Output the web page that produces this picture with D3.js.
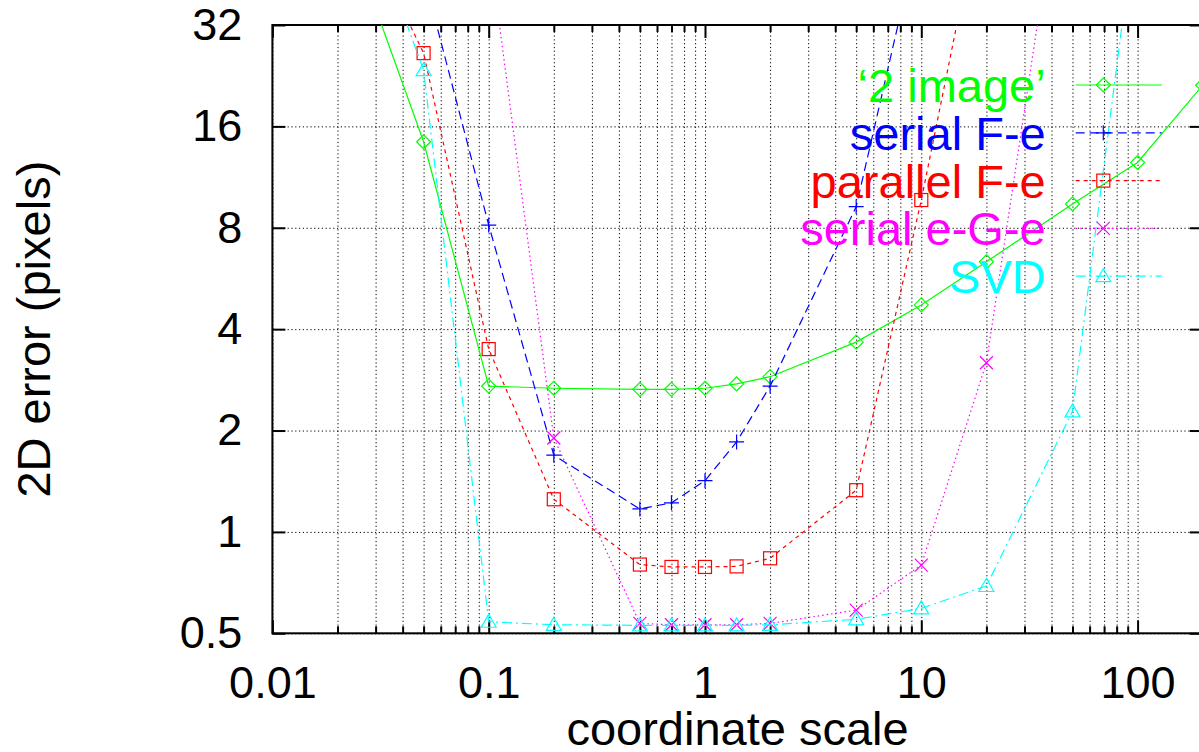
<!DOCTYPE html>
<html>
<head>
<meta charset="utf-8">
<script src="https://cdn.jsdelivr.net/npm/d3@7"></script>
<style>
  html, body { margin: 0; padding: 0; background: #fff; overflow: hidden; }
  svg { display: block; }
  text { font-family: "Liberation Sans", Arial, Helvetica, sans-serif; }
</style>
</head>
<body>
<svg id="chart" width="1199" height="752"></svg>
<script>
// ---- data ----
const xValues = [0.02, 0.05, 0.1, 0.2, 0.5, 0.7, 1, 1.4, 2, 5, 10, 20, 50, 100, 200];
const twoImage   = [74, 14.4, 2.71, 2.67, 2.65, 2.65, 2.67, 2.75, 2.89, 3.66, 4.72, 6.34, 9.41, 12.5, 21.2];
const serialFe   = [null, 45, 8.15, 1.69, 1.17, 1.22, 1.42, 1.85, 2.71, 9.24, 64, null, null, null, null];
const parallelFe = [89, 26.4, 3.49, 1.25, 0.80, 0.787, 0.787, 0.79, 0.835, 1.33, 9.67, 87, null, null, null];
const serialEGe  = [null, null, 56, 1.90, 0.535, 0.53, 0.53, 0.53, 0.535, 0.586, 0.797, 3.18, 158, null, null];
const svdValues  = [118, 23.5, 0.541, 0.53, 0.528, 0.528, 0.528, 0.528, 0.53, 0.55, 0.593, 0.691, 2.28, 73.5, null];

const seriesNames = ["\u20182 image\u2019", "serial F-e", "parallel F-e", "serial e-G-e", "SVD"];
const xTickValues = [0.01, 0.1, 1, 10, 100];
const xTickLabels = ["0.01", "0.1", "1", "10", "100"];
const yTickValues = [0.5, 1, 2, 4, 8, 16, 32];
const yTickLabels = ["0.5", "1", "2", "4", "8", "16", "32"];
const xLabel = "coordinate scale";
const yLabel = "2D error (pixels)";

// ---- styling ----
const styles = [
  { color: "#00ff00", dash: null,         marker: "diamond" },
  { color: "#0000ff", dash: "9,5",        marker: "plus" },
  { color: "#ff0000", dash: "4,4",        marker: "square" },
  { color: "#ff00ff", dash: "1.5,3",      marker: "cross" },
  { color: "#00ffff", dash: "10,4,2,4",   marker: "triangle" }
];
const allSeries = [twoImage, serialFe, parallelFe, serialEGe, svdValues];

const pLeft = 272.4, pRight = 1202.7, pTop = 25, pBottom = 633.3;
const fontTick = 45, fontLabel = 47;

const svg = d3.select("#chart");
const x = d3.scaleLog().domain([0.01, 200]).range([pLeft, pRight]);
const y = d3.scaleLog().base(2).domain([0.5, 32]).range([pBottom, pTop]);

// minor x ticks
const xMinor = [];
[0.01, 0.1, 1, 10, 100].forEach(d => { for (let k = 2; k <= 9; k++) { const v = d * k; if (v <= 200.0001) xMinor.push(v); } });

// ---- grid ----
const gridStyle = g => g.selectAll("line").attr("stroke", "#000").attr("stroke-width", 1).attr("stroke-dasharray", "1.2,2.6");
const gx = svg.append("g").attr("transform", `translate(0,${pBottom})`)
  .call(d3.axisBottom(x).tickValues(xTickValues.concat(xMinor)).tickSize(-(pBottom - pTop)).tickFormat(""));
gx.select(".domain").remove(); gx.call(gridStyle);
const gy = svg.append("g").attr("transform", `translate(${pLeft},0)`)
  .call(d3.axisLeft(y).tickValues(yTickValues).tickSize(-(pRight - pLeft)).tickFormat(""));
gy.select(".domain").remove(); gy.call(gridStyle);

// ---- axes / ticks ----
function tickStyle(g) { g.select(".domain").remove(); g.selectAll("line").attr("stroke", "#000").attr("stroke-width", 2); g.selectAll("text").attr("fill", "#000"); }
svg.append("g").attr("transform", `translate(0,${pBottom})`)
  .call(d3.axisBottom(x).tickValues(xTickValues).tickSize(-13).tickPadding(33)
    .tickFormat((d, i) => xTickLabels[i]))
  .call(tickStyle).selectAll("text").attr("font-size", fontTick).attr("font-family", "Liberation Sans, Arial, sans-serif");
svg.append("g").attr("transform", `translate(0,${pBottom})`)
  .call(d3.axisBottom(x).tickValues(xMinor).tickSize(-7).tickFormat("")).call(tickStyle);
svg.append("g").attr("transform", `translate(0,${pTop})`)
  .call(d3.axisTop(x).tickValues(xTickValues).tickSize(-13).tickFormat("")).call(tickStyle);
svg.append("g").attr("transform", `translate(0,${pTop})`)
  .call(d3.axisTop(x).tickValues(xMinor).tickSize(-7).tickFormat("")).call(tickStyle);
svg.append("g").attr("transform", `translate(${pLeft},0)`)
  .call(d3.axisLeft(y).tickValues(yTickValues).tickSize(-13).tickPadding(30)
    .tickFormat((d, i) => yTickLabels[i]))
  .call(tickStyle).selectAll("text").attr("font-size", fontTick).attr("font-family", "Liberation Sans, Arial, sans-serif");
svg.append("g").attr("transform", `translate(${pRight},0)`)
  .call(d3.axisRight(y).tickValues(yTickValues).tickSize(-13).tickFormat("")).call(tickStyle);

// border
svg.append("rect").attr("x", pLeft).attr("y", pTop).attr("width", pRight - pLeft).attr("height", pBottom - pTop)
  .attr("fill", "none").attr("stroke", "#000").attr("stroke-width", 2);

// axis labels
svg.append("text").attr("x", (pLeft + pRight) / 2).attr("y", 745).attr("text-anchor", "middle")
  .attr("font-size", fontLabel).attr("fill", "#000").text(xLabel);
svg.append("text").attr("transform", `translate(50,${(pTop + pBottom) / 2}) rotate(-90)`).attr("text-anchor", "middle")
  .attr("font-size", fontLabel).attr("fill", "#000").text(yLabel);

// ---- markers ----
function drawMarker(g, type, cx, cy, color) {
  const s = 6.5;
  if (type === "diamond") {
    g.append("path").attr("d", `M${cx},${cy - s - 0.5}L${cx + s + 0.5},${cy}L${cx},${cy + s + 0.5}L${cx - s - 0.5},${cy}Z`)
      .attr("fill", "none").attr("stroke", color).attr("stroke-width", 1.2);
  } else if (type === "plus") {
    g.append("path").attr("d", `M${cx - s - 1},${cy}H${cx + s + 1}M${cx},${cy - s - 1}V${cy + s + 1}`)
      .attr("stroke", color).attr("stroke-width", 1.2);
  } else if (type === "square") {
    g.append("rect").attr("x", cx - s).attr("y", cy - s).attr("width", 2 * s).attr("height", 2 * s)
      .attr("fill", "none").attr("stroke", color).attr("stroke-width", 1.2);
  } else if (type === "cross") {
    g.append("path").attr("d", `M${cx - s},${cy - s}L${cx + s},${cy + s}M${cx - s},${cy + s}L${cx + s},${cy - s}`)
      .attr("stroke", color).attr("stroke-width", 1.2);
  } else if (type === "triangle") {
    g.append("path").attr("d", `M${cx},${cy - s - 1}L${cx + s + 1},${cy + s - 1}L${cx - s - 1},${cy + s - 1}Z`)
      .attr("fill", "none").attr("stroke", color).attr("stroke-width", 1.2);
  }
}

// ---- series ----
svg.append("clipPath").attr("id", "plotclip").append("rect")
  .attr("x", pLeft).attr("y", pTop).attr("width", pRight - pLeft).attr("height", pBottom - pTop);
const plot = svg.append("g").attr("clip-path", "url(#plotclip)");
const line = d3.line().defined(d => d.v != null).x(d => x(d.x)).y(d => y(d.v));

allSeries.forEach((vals, i) => {
  const st = styles[i];
  const pts = xValues.map((xv, j) => ({ x: xv, v: vals[j] }));
  const p = plot.append("path").datum(pts).attr("d", line).attr("fill", "none")
    .attr("stroke", st.color).attr("stroke-width", 1.2);
  if (st.dash) p.attr("stroke-dasharray", st.dash);
  const mg = plot.append("g");
  pts.filter(d => d.v != null && d.v >= 0.5 && d.v <= 32).forEach(d => drawMarker(mg, st.marker, x(d.x), y(d.v), st.color));
});

// ---- key ----
const keyTextRight = 1045.7, keyLineX0 = 1075.7, keyLineX1 = 1161.7, keyMarkX = 1103.3;
const keyTop = 85, keyStep = 47.8;
seriesNames.forEach((name, i) => {
  const st = styles[i];
  const ry = keyTop + i * keyStep;
  svg.append("text").attr("x", keyTextRight).attr("y", ry + 17).attr("text-anchor", "end")
    .attr("font-size", fontLabel).attr("fill", st.color).text(name);
  const l = svg.append("line").attr("x1", keyLineX0).attr("x2", keyLineX1).attr("y1", ry).attr("y2", ry)
    .attr("stroke", st.color).attr("stroke-width", 1.2);
  if (st.dash) l.attr("stroke-dasharray", st.dash);
  drawMarker(svg.append("g"), st.marker, keyMarkX, ry, st.color);
});
</script>
</body>
</html>
